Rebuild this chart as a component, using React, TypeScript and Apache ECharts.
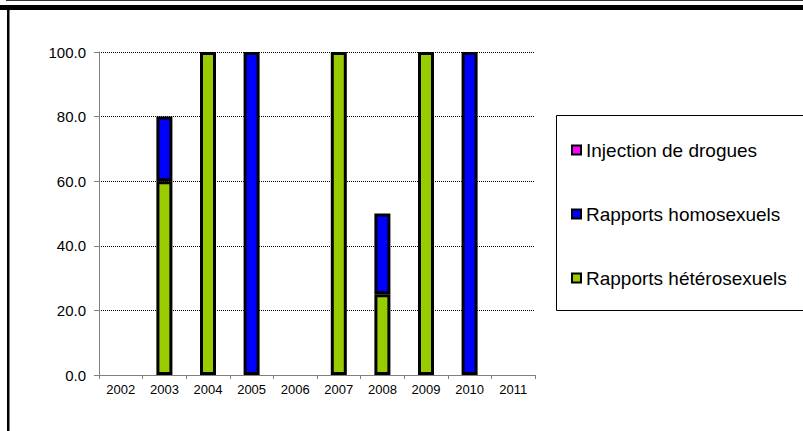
import React, { useEffect, useRef } from "react";
import * as echarts from "echarts";

const years = ["2002", "2003", "2004", "2005", "2006", "2007", "2008", "2009", "2010", "2011"];
const hetero = [0, 60, 100, 0, 0, 100, 25, 100, 0, 0];
const homo = [0, 20, 0, 100, 0, 0, 25, 0, 100, 0];
const injection = [0, 0, 0, 0, 0, 0, 0, 0, 0, 0];
const names = ["Injection de drogues", "Rapports homosexuels", "Rapports hétérosexuels"];

const FONT = "Arial";

const hide = (arr: number[]) => arr.map((v) => (v === 0 ? "-" : v));

export default function App() {
  const ref = useRef<HTMLDivElement>(null);
  useEffect(() => {
    if (!ref.current) return;
    const chart = echarts.init(ref.current, undefined, { renderer: "svg" });
    const barBase = {
      type: "bar" as const,
      stack: "total",
      barWidth: 16,
      itemStyle: { borderColor: "#000", borderWidth: 3 },
    };
    chart.setOption({
      animation: false,
      backgroundColor: "#fff",
      grid: { left: 99, right: 268, top: 52, bottom: 56 },
      legend: {
        orient: "vertical",
        left: 571,
        top: 140,
        padding: 0,
        itemWidth: 9,
        itemHeight: 9,
        itemGap: 44,
        icon: "rect",
        data: names,
        itemStyle: { borderColor: "#000", borderWidth: 2 },
        textStyle: { fontSize: 19, fontFamily: FONT, color: "#000", lineHeight: 20 },
      },
      xAxis: {
        type: "category",
        data: years,
        axisLine: { lineStyle: { color: "#808080", width: 1 } },
        axisTick: { show: true, length: 4, lineStyle: { color: "#808080" } },
        axisLabel: { fontSize: 13, fontFamily: FONT, color: "#000", margin: 8 },
      },
      yAxis: {
        type: "value",
        min: 0,
        max: 100,
        interval: 20,
        axisLine: { show: true, lineStyle: { color: "#808080", width: 1 } },
        axisTick: { show: true, length: 5, lineStyle: { color: "#808080" } },
        axisLabel: {
          fontSize: 15,
          fontFamily: FONT,
          color: "#000",
          margin: 13,
          formatter: (v: number) => v.toFixed(1),
        },
        splitLine: { show: true, lineStyle: { color: "#000", width: 1, type: [1, 1] } },
      },
      series: [
        { ...barBase, name: names[2], data: hide(hetero), itemStyle: { ...barBase.itemStyle, color: "#99CC00" } },
        { ...barBase, name: names[1], data: hide(homo), itemStyle: { ...barBase.itemStyle, color: "#0000FF" } },
        { ...barBase, name: names[0], data: hide(injection), itemStyle: { ...barBase.itemStyle, color: "#FF00FF" } },
      ],
      graphic: [
        { type: "rect", shape: { x: 6, y: 0, width: 797, height: 1 }, style: { fill: "#333" } },
        { type: "rect", shape: { x: 0, y: 5, width: 803, height: 5 }, style: { fill: "#000" } },
        { type: "rect", shape: { x: 7, y: 10, width: 2.5, height: 421 }, style: { fill: "#000" } },
        {
          type: "rect",
          shape: { x: 556.5, y: 115.5, width: 260, height: 195 },
          style: { fill: "none", stroke: "#000", lineWidth: 1 },
          z: -1,
        },
      ],
    });
    return () => chart.dispose();
  }, []);
  return (
    <div
      ref={ref}
      style={{ position: "fixed", left: 0, top: 0, width: 803, height: 431 }}
    />
  );
}
